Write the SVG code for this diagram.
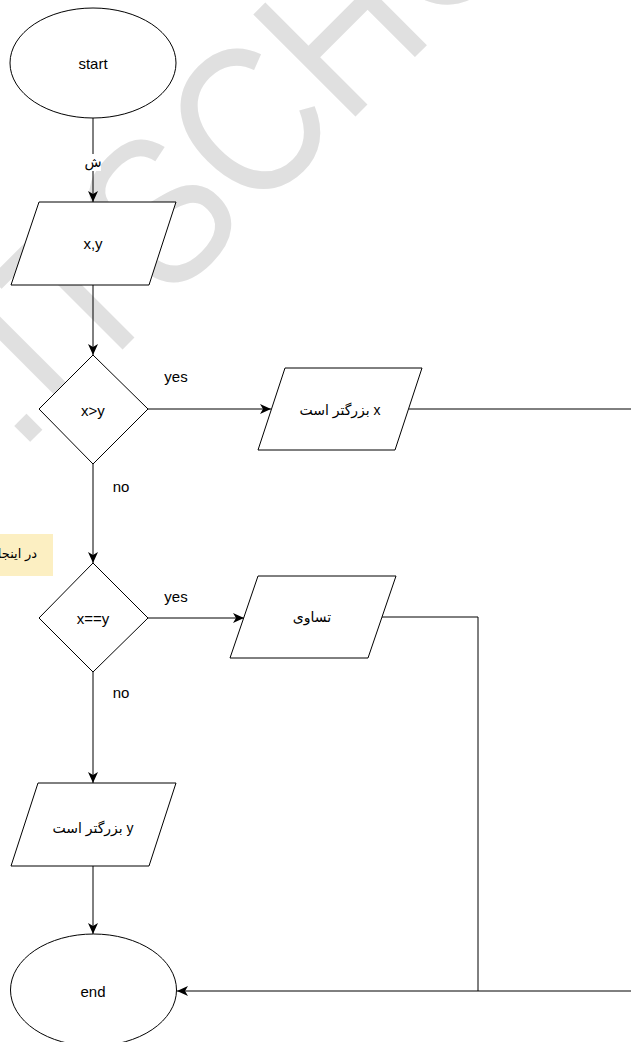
<svg xmlns="http://www.w3.org/2000/svg" width="631" height="1042" viewBox="0 0 631 1042">
<style>
.shape{fill:#ffffff;stroke:#000000;stroke-width:1}
.edge{fill:none;stroke:#000000;stroke-width:1}
.t{font-family:"Liberation Sans","DejaVu Sans",sans-serif;font-size:15px;fill:#000000;text-anchor:middle;dominant-baseline:central}
.fa{font-size:14px}
.wm{font-family:"Liberation Sans",sans-serif;font-size:210px;fill:#e0e0e0}
</style>
<defs>
<marker id="arr" viewBox="-12 -6 13 12" refX="0" refY="0" markerWidth="13" markerHeight="12" orient="auto" markerUnits="userSpaceOnUse">
<path d="M0,0 L-11,-5 L-8,0 L-11,5 Z" fill="#000000"/>
</marker>
</defs>
<rect x="0" y="0" width="631" height="1042" fill="#ffffff"/>
<g id="watermark">
<text class="wm" transform="translate(18.6,453.4) rotate(-45) scale(0.86,1)" x="0" y="0">.ITSCHOOL</text>
</g>
<g id="connectors">
<line class="edge" x1="93" y1="118" x2="93" y2="202" marker-end="url(#arr)"/>
<rect x="85" y="154" width="16" height="17" fill="#ffffff"/>
<text class="t fa" x="93" y="162">ش</text>
<line class="edge" x1="93" y1="285" x2="93" y2="355" marker-end="url(#arr)"/>
<line class="edge" x1="148" y1="409" x2="271" y2="409" marker-end="url(#arr)"/>
<text class="t" x="176" y="376">yes</text>
<polyline class="edge" points="409,409 640,409 640,991 177,991" marker-end="url(#arr)"/>
<line class="edge" x1="93" y1="464" x2="93" y2="563" marker-end="url(#arr)"/>
<text class="t" x="121" y="486">no</text>
<line class="edge" x1="148" y1="618" x2="244" y2="618" marker-end="url(#arr)"/>
<text class="t" x="176" y="596">yes</text>
<polyline class="edge" points="382,617 478,617 478,991"/>
<line class="edge" x1="93" y1="672" x2="93" y2="783" marker-end="url(#arr)"/>
<text class="t" x="121" y="692">no</text>
<line class="edge" x1="93" y1="866" x2="93" y2="934" marker-end="url(#arr)"/>
</g>
<g id="start">
<ellipse class="shape" cx="93" cy="63" rx="83" ry="55"/>
<text class="t" x="93" y="63">start</text>
</g>
<g id="input">
<polygon class="shape" points="39,202 176,202 149,285 11,285"/>
<text class="t" x="93" y="243">x,y</text>
</g>
<g id="cond1">
<polygon class="shape" points="93,355 148,409 93,464 39,409"/>
<text class="t" x="93" y="410">x&gt;y</text>
</g>
<g id="out_x">
<polygon class="shape" points="285,368 422,368 395,450 258,450"/>
<text class="t fa" x="340" y="410" direction="rtl">x بزرگتر است</text>
</g>
<g id="note">
<rect x="-10" y="534" width="63" height="42" fill="#fcefc2"/>
<text class="t" x="37" y="553" style="text-anchor:end;font-size:13px">در اینجا</text>
</g>
<g id="cond2">
<polygon class="shape" points="93,563 148,618 93,672 39,618"/>
<text class="t" x="93" y="618">x==y</text>
</g>
<g id="out_eq">
<polygon class="shape" points="258,576 396,576 368,658 230,658"/>
<text class="t fa" x="312" y="617">تساوی</text>
</g>
<g id="out_y">
<polygon class="shape" points="38,783 176,783 149,866 11,866"/>
<text class="t fa" x="93" y="828" direction="rtl">y بزرگتر است</text>
</g>
<g id="end">
<ellipse class="shape" cx="93.5" cy="990" rx="83" ry="56"/>
<text class="t" x="93" y="991">end</text>
</g>
</svg>
